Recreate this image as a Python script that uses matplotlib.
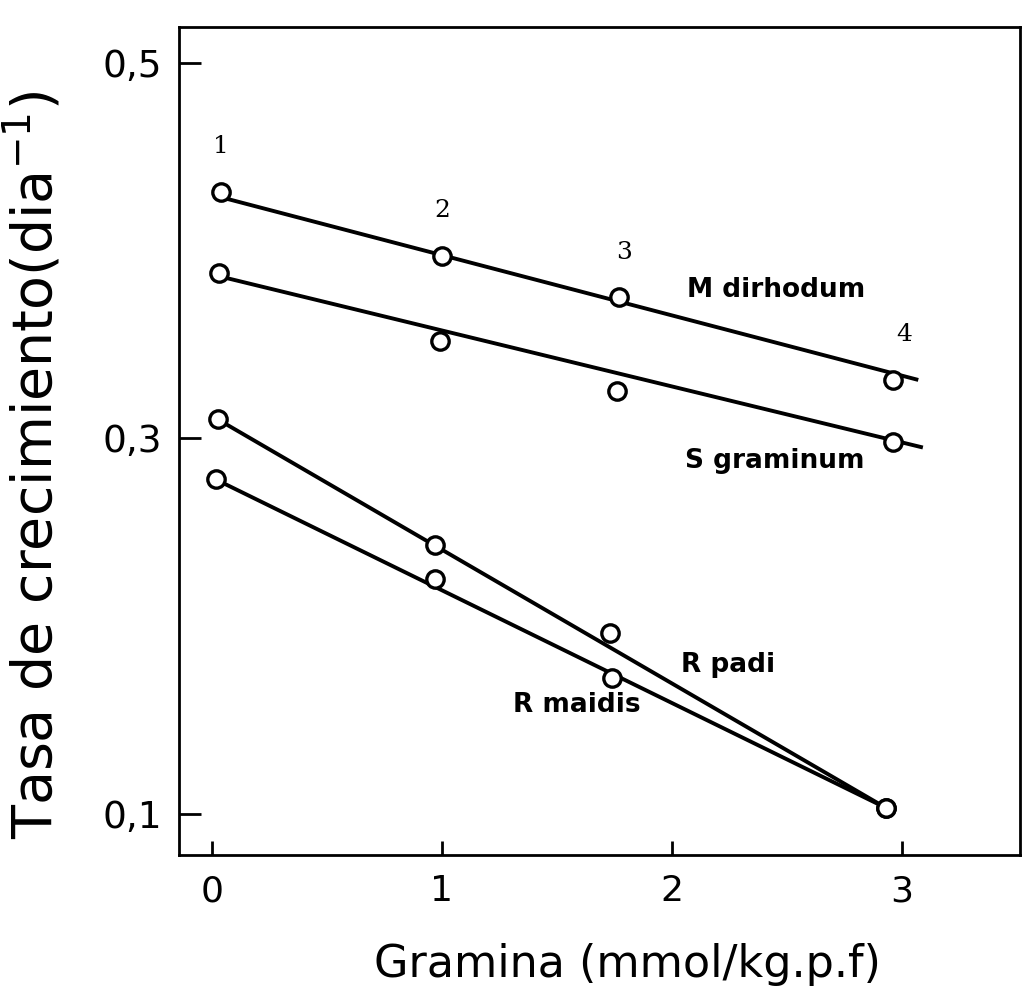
import numpy as np
import matplotlib
matplotlib.use("Agg")
import matplotlib.pyplot as plt

# valores
m_x = [0.04, 1.00, 1.77, 2.96]
m_y = [0.431, 0.397, 0.375, 0.331]
s_x = [0.03, 0.99, 1.76, 2.96]
s_y = [0.388, 0.352, 0.325, 0.298]
p_x = [0.026, 0.97, 1.73, 2.93]
p_y = [0.310, 0.243, 0.196, 0.103]
r_x = [0.017, 0.97, 1.74, 2.93]
r_y = [0.278, 0.225, 0.172, 0.103]

# rectas de ajuste dibujadas (extremos)
m_fit_x = [0.05, 3.07]
m_fit_y = [0.428, 0.331]
s_fit_x = [0.04, 3.09]
s_fit_y = [0.386, 0.295]
p_fit_x = [0.026, 2.93]
p_fit_y = [0.310, 0.103]
r_fit_x = [0.017, 2.93]
r_fit_y = [0.278, 0.103]

xticks = [0, 1, 2, 3]
yticks = [0.1, 0.3, 0.5]
ytick_labels = ["0,1", "0,3", "0,5"]
point_nums = ["1", "2", "3", "4"]
num_dx = [0.0, 0.0, 0.02, 0.05]

fig = plt.figure(figsize=(10.34, 10.01), dpi=100)
ax = fig.add_axes([0.173, 0.146, 0.813, 0.827])

lw = 2.8
for fx, fy in [(m_fit_x, m_fit_y), (s_fit_x, s_fit_y), (p_fit_x, p_fit_y), (r_fit_x, r_fit_y)]:
    ax.plot(fx, fy, color='black', lw=lw, solid_capstyle='butt', zorder=2)

for xs, ys in [(m_x, m_y), (s_x, s_y), (p_x, p_y), (r_x, r_y)]:
    ax.plot(xs, ys, linestyle='none', marker='o', ms=12.5, mfc='white',
            mec='black', mew=2.4, zorder=3)

# numeros de las dosis
for i, n in enumerate(point_nums):
    ax.text(m_x[i] + num_dx[i], m_y[i] + 0.018, n, ha='center', va='bottom',
            fontsize=18, family='DejaVu Serif')

lab = dict(fontsize=19, fontweight='bold', family='DejaVu Sans', ha='left', va='center')
ax.text(2.065, 0.379, "M dirhodum", **lab)
ax.text(2.057, 0.288, "S graminum", **lab)
ax.text(2.04, 0.179, "R padi", **lab)
ax.text(1.31, 0.158, "R maidis", **lab)

ax.set_xlim(-0.143, 3.51)
ax.set_ylim(0.078, 0.519)
ax.set_xticks(xticks)
ax.set_xticklabels([str(t) for t in xticks])
ax.set_yticks(yticks)
ax.set_yticklabels(ytick_labels)
ax.tick_params(axis='x', direction='in', length=10, width=2, labelsize=26, pad=14)
ax.tick_params(axis='y', direction='in', length=16, width=2, labelsize=27, pad=12)
ax.tick_params(top=False, right=False)
for sp in ax.spines.values():
    sp.set_linewidth(2)

ax.set_xlabel("Gramina (mmol/kg.p.f)", fontsize=32, va='center')
ax.xaxis.set_label_coords(0.534, -0.133)
ax.set_ylabel("Tasa de crecimiento(dia$^{-1}$)", fontsize=40, va='center')
ax.yaxis.set_label_coords(-0.174, 0.471)

fig.savefig("out.png", dpi=100)
